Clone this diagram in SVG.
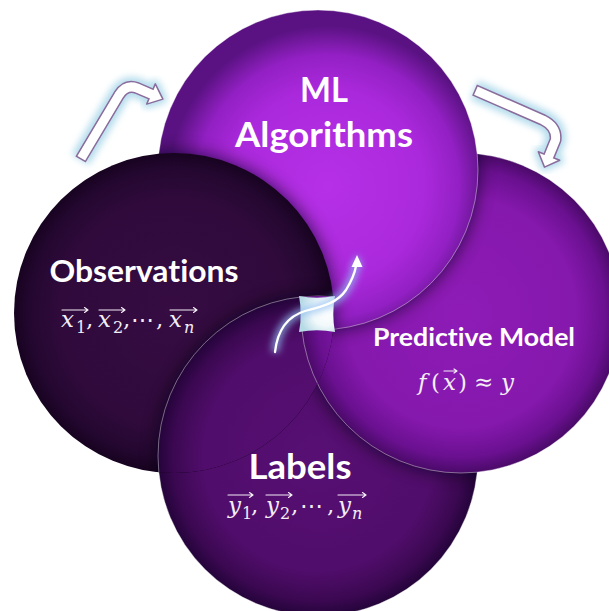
<svg xmlns="http://www.w3.org/2000/svg" width="609" height="611" viewBox="0 0 609 611">
<defs>
<style>
.h{font-family:Lato,"Open Sans","Liberation Sans",sans-serif;font-weight:700;fill:#fff;text-anchor:middle;font-variant-ligatures:none}
.m{font-family:"DejaVu Serif","Liberation Serif",serif;font-style:italic;font-size:23px;fill:#f4eef6}
.s{font-family:"DejaVu Serif","Liberation Serif",serif;font-size:16px;fill:#f4eef6}
.si{font-family:"DejaVu Serif","Liberation Serif",serif;font-style:italic;font-size:16px;fill:#f4eef6}
.u{font-family:"DejaVu Serif","Liberation Serif",serif;font-size:23px;fill:#f4eef6}
.va{stroke:#f4eef6;stroke-width:1.2;fill:none;stroke-linecap:round;stroke-linejoin:round}
.rim{fill:none;stroke:#fff;stroke-opacity:.45;stroke-width:.9}
.shadow{fill:#0a0012;opacity:.75}
.glowc{fill:none;stroke:#b3dcec;stroke-width:20;stroke-linejoin:round}
.outl{fill:none;stroke:#8a6b9c;stroke-width:12;stroke-linejoin:round}
.inner{fill:none;stroke:#fff;stroke-width:9;stroke-linejoin:round}
.head{fill:#fff;stroke:#8a6b9c;stroke-width:1.5;stroke-linejoin:round}
.headglow{fill:#b3dcec;stroke:#b3dcec;stroke-width:8;stroke-linejoin:round}
</style>
<radialGradient id="gML" cx="0.53" cy="0.55" r="0.5">
<stop offset="0" stop-color="#b530e7"/><stop offset="0.6" stop-color="#ab29dc"/><stop offset="0.82" stop-color="#9320c4"/><stop offset="1" stop-color="#5a1282"/>
</radialGradient>
<radialGradient id="gPred" cx="0.5" cy="0.5" r="0.5">
<stop offset="0" stop-color="#8e1bb6"/><stop offset="0.72" stop-color="#8518ad"/><stop offset="0.9" stop-color="#6a1090"/><stop offset="1" stop-color="#4a0a68"/>
</radialGradient>
<radialGradient id="gLab" cx="0.5" cy="0.5" r="0.5">
<stop offset="0" stop-color="#570f73"/><stop offset="0.72" stop-color="#500d6b"/><stop offset="0.9" stop-color="#3c0852"/><stop offset="1" stop-color="#24043a"/>
</radialGradient>
<radialGradient id="gObs" cx="0.5" cy="0.5" r="0.5">
<stop offset="0" stop-color="#360c43"/><stop offset="0.72" stop-color="#2f0a3b"/><stop offset="0.9" stop-color="#240730"/><stop offset="1" stop-color="#170320"/>
</radialGradient>
<radialGradient id="gHub" cx="0.75" cy="0.45" r="0.75">
<stop offset="0" stop-color="#ffffff"/><stop offset="0.5" stop-color="#f2f9fb"/><stop offset="1" stop-color="#b7dbe6"/>
</radialGradient>
<filter id="sh" x="-30%" y="-30%" width="160%" height="160%"><feGaussianBlur stdDeviation="9"/></filter>
<filter id="glow" x="-40%" y="-40%" width="180%" height="180%"><feGaussianBlur stdDeviation="3.5"/></filter>
<clipPath id="cLab"><circle cx="318" cy="456" r="160"/></clipPath>
<clipPath id="cPred"><circle cx="461" cy="313" r="160"/></clipPath>
<clipPath id="cML"><circle cx="318" cy="170" r="160"/></clipPath>
<clipPath id="cObs"><circle cx="174" cy="313" r="160"/></clipPath>
</defs>

<g id="node-labels">
<circle cx="318" cy="456" r="160" fill="url(#gLab)"/>
<circle class="rim" cx="318" cy="456" r="160"/>
<text class="h" x="300" y="479" font-size="35" textLength="103" lengthAdjust="spacingAndGlyphs">Labels</text>
<g id="labels-math">
<text class="m" x="228" y="513">y</text><text class="s" x="242" y="519">1</text><text class="u" x="251" y="513">,</text>
<text class="m" x="266" y="513">y</text><text class="s" x="280" y="519">2</text><text class="u" x="291" y="513">,</text>
<text class="u" x="300" y="513">⋯</text><text class="u" x="327" y="513">,</text>
<text class="m" x="338" y="513">y</text><text class="si" x="352" y="519">n</text>
<path class="va" d="M228,495 H253 M249.5,492.6 L253,495 L249.5,497.4 M266,495 H292 M288.5,492.6 L292,495 L288.5,497.4 M338,495 H366 M362.5,492.6 L366,495 L362.5,497.4"/>
</g>
</g>

<g id="node-predictive">
<g clip-path="url(#cLab)"><circle class="shadow" cx="461" cy="313" r="160" filter="url(#sh)"/></g>
<circle cx="461" cy="313" r="160" fill="url(#gPred)"/>
<circle class="rim" cx="461" cy="313" r="160"/>
<text class="h" x="474" y="346" font-size="25.5" textLength="202" lengthAdjust="spacingAndGlyphs">Predictive Model</text>
<g id="pred-math">
<text class="m" x="418" y="390">f</text><text class="u" x="431" y="390">(</text><text class="m" x="443" y="390">x</text><text class="u" x="458" y="390">)</text>
<text class="u" x="474" y="390">≈</text><text class="m" x="501" y="390">y</text>
<path class="va" d="M444,371 H457 M454,369 L457,371 L454,373"/>
</g>
</g>

<g id="node-ml">
<g clip-path="url(#cPred)"><circle class="shadow" cx="318" cy="170" r="160" filter="url(#sh)"/></g>
<circle cx="318" cy="170" r="160" fill="url(#gML)"/>
<circle class="rim" cx="318" cy="170" r="160"/>
<text class="h" x="324" y="102" font-size="35" textLength="48" lengthAdjust="spacingAndGlyphs">ML</text>
<text class="h" x="324" y="147" font-size="35" textLength="178" lengthAdjust="spacingAndGlyphs">Algorithms</text>
</g>

<g id="node-observations">
<g clip-path="url(#cML)"><circle class="shadow" cx="174" cy="313" r="160" filter="url(#sh)"/></g>
<circle cx="174" cy="313" r="160" fill="url(#gObs)"/>
<text class="h" x="144" y="282" font-size="31" textLength="189" lengthAdjust="spacingAndGlyphs">Observations</text>
<g id="obs-math">
<text class="m" x="61" y="327">x</text><text class="s" x="76" y="333">1</text><text class="u" x="86" y="327">,</text>
<text class="m" x="98" y="327">x</text><text class="s" x="113" y="333">2</text><text class="u" x="123" y="327">,</text>
<text class="u" x="131" y="327">⋯</text><text class="u" x="156" y="327">,</text>
<text class="m" x="169" y="327">x</text><text class="si" x="184" y="333">n</text>
<path class="va" d="M62,310 H88 M84.5,307.6 L88,310 L84.5,312.4 M99,310 H125 M121.5,307.6 L125,310 L121.5,312.4 M170,310 H197 M193.5,307.6 L197,310 L193.5,312.4"/>
</g>
</g>

<g id="overlaps">
<g clip-path="url(#cObs)">
<circle class="shadow" cx="318" cy="456" r="160" filter="url(#sh)"/>
<circle cx="318" cy="456" r="160" fill="url(#gLab)"/>
<circle class="rim" cx="318" cy="456" r="160"/>
<g clip-path="url(#cLab)">
<circle cx="461" cy="313" r="160" fill="url(#gPred)"/>
<circle class="rim" cx="461" cy="313" r="160"/>
</g>
</g>
</g>

<g id="node-hub">
<path d="M299,296 Q317,299.5 335,296 Q331.5,314 335,332 Q317,328.5 299,332 Q302.5,314 299,296 Z" fill="url(#gHub)"/>
</g>

<g id="connectors">
<g id="arrow-observations-to-ml">
<path class="glowc" d="M80.5,159.5 L119,95 Q126,84 137,88 L151,94" filter="url(#glow)"/>
<polygon class="headglow" points="162.9,99.1 146.7,104.1 155.3,83.9" filter="url(#glow)"/>
<path class="outl" d="M80.5,159.5 L119,95 Q126,84 137,88 L151,94"/>
<polygon class="head" points="162.9,99.1 146.7,104.1 155.3,83.9"/>
<path class="inner" d="M81.3,158.2 L119,95 Q126,84 137,88 L152.4,94.6"/>
</g>
<g id="arrow-ml-to-predictive">
<path class="glowc" d="M474.5,90 L543,120 Q557,127 555.5,140 L549,156" filter="url(#glow)"/>
<polygon class="headglow" points="544.5,167.1 559.7,160.3 538.3,151.7" filter="url(#glow)"/>
<path class="outl" d="M474.5,90 L543,120 Q557,127 555.5,140 L549,156"/>
<polygon class="head" points="544.5,167.1 559.7,160.3 538.3,151.7"/>
<path class="inner" d="M475.9,90.6 L543,120 Q557,127 555.5,140 L548.4,157.4"/>
</g>
<g id="arrow-center">
<path d="M275,352 C278,325 292,315 305,311 C325,306 338,302 346,290 C352,280 355,272 356,266" fill="none" stroke="#8fbdf0" stroke-width="8" stroke-opacity=".75" filter="url(#glow)"/>
<polygon points="357,254 350.5,267 363,267" fill="#8fbdf0" opacity=".75" filter="url(#glow)"/>
<path d="M275,352 C278,325 292,315 305,311 C325,306 338,302 346,290 C352,280 355,272 356,266" fill="none" stroke="#fff" stroke-width="2.3" stroke-linecap="round"/>
<polygon points="357,255 351.5,267 362.5,267" fill="#fff"/>
</g>
</g>
</svg>
